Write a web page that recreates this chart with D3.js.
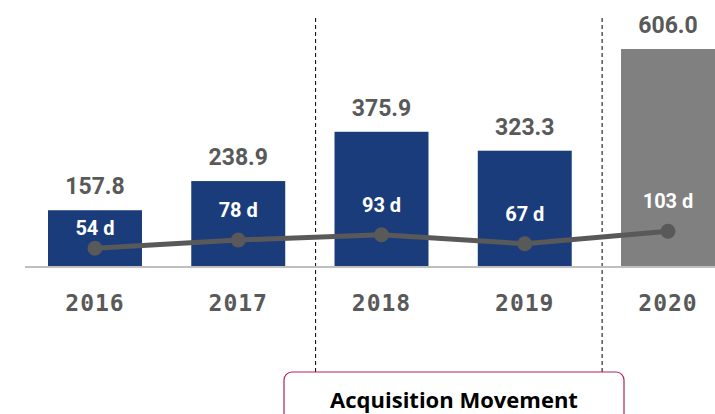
<!DOCTYPE html>
<meta charset="utf-8">
<style>
body { margin: 0; background: #fff; }
.val { font-family: Roboto, sans-serif; font-weight: 700; font-size: 23px; fill: #595959; }
.day { font-family: Roboto, sans-serif; font-weight: 700; font-size: 20px; fill: #fff; }
.year { font-family: "DejaVu Sans Mono", monospace; font-weight: 700; font-size: 23px; fill: #595959; letter-spacing: 1px; }
.note { font-family: "Open Sans", sans-serif; font-weight: 700; font-size: 22px; fill: #000; }
</style>
<svg width="715" height="414"></svg>
<script src="https://d3js.org/d3.v7.min.js"></script>
<script>

var years = ["2016", "2017", "2018", "2019", "2020"];
var amounts = [157.8, 238.9, 375.9, 323.3, 606.0];
var days = [54, 78, 93, 67, 103];
var barColors = ["#1b3c7b", "#1b3c7b", "#1b3c7b", "#1b3c7b", "#808080"];
var dividers = ["2018", "2020"];

var svg = d3.select("svg"),
    baseY = 267;

var x = d3.scaleBand().domain(years).range([48, 715]).paddingInner(0.344).paddingOuter(0),
    y = d3.scaleLinear().domain([0, 606]).range([baseY, 49]),
    yd = d3.scaleLinear().domain([0, 770]).range([baseY, 0]);

var data = years.map(function(d, i) {
    return {year: d, amount: amounts[i], days: days[i], color: barColors[i]};
});
var cx = function(d) { return x(d.year) + x.bandwidth() / 2; };

// dashed dividers, just left of the bar they open
var divX = function(d) { return x(d) + x.bandwidth() / 2 - 0.46 * x.step(); };
svg.selectAll(".divider")
    .data(dividers)
    .enter().append("line")
    .attr("x1", divX)
    .attr("x2", divX)
    .attr("y1", 18)
    .attr("y2", 372)
    .attr("stroke", "#000")
    .attr("stroke-width", 1)
    .attr("stroke-dasharray", "4,3");

svg.selectAll(".bar")
    .data(data)
    .enter().append("rect")
    .attr("x", function(d) { return x(d.year); })
    .attr("y", function(d) { return y(d.amount); })
    .attr("width", x.bandwidth())
    .attr("height", function(d) { return baseY - y(d.amount); })
    .attr("fill", function(d) { return d.color; });

// baseline
svg.append("line")
    .attr("x1", 25).attr("x2", 715)
    .attr("y1", baseY).attr("y2", baseY)
    .attr("stroke", "#bfbfbf")
    .attr("stroke-width", 2);

svg.selectAll(".val")
    .data(data)
    .enter().append("text")
    .attr("class", "val")
    .attr("x", cx)
    .attr("y", function(d) { return y(d.amount) - 16; })
    .attr("text-anchor", "middle")
    .text(function(d) { return d.amount.toFixed(1); });

svg.selectAll(".year")
    .data(data)
    .enter().append("text")
    .attr("class", "year")
    .attr("x", cx)
    .attr("y", 311)
    .attr("text-anchor", "middle")
    .text(function(d) { return d.year; });

// days line
var line = d3.line().x(cx).y(function(d) { return yd(d.days); });

svg.append("path")
    .datum(data)
    .attr("d", line)
    .attr("fill", "none")
    .attr("stroke", "#595959")
    .attr("stroke-width", 5);

svg.selectAll(".dot")
    .data(data)
    .enter().append("circle")
    .attr("cx", cx)
    .attr("cy", function(d) { return yd(d.days); })
    .attr("r", 7.5)
    .attr("fill", "#595959");

svg.selectAll(".day")
    .data(data)
    .enter().append("text")
    .attr("class", "day")
    .attr("x", cx)
    .attr("y", function(d) { return Math.max(yd(d.days) - 23, y(d.amount) + 25); })
    .attr("text-anchor", "middle")
    .text(function(d) { return d.days + " d"; });

// annotation box
svg.append("rect")
    .attr("x", 284).attr("y", 372)
    .attr("width", 340).attr("height", 60)
    .attr("rx", 8)
    .attr("fill", "#fff")
    .attr("stroke", "#b5244f")
    .attr("stroke-width", 1.2);

svg.append("text")
    .attr("class", "note")
    .attr("x", 454)
    .attr("y", 408)
    .attr("text-anchor", "middle")
    .text("Acquisition Movement");

</script>
